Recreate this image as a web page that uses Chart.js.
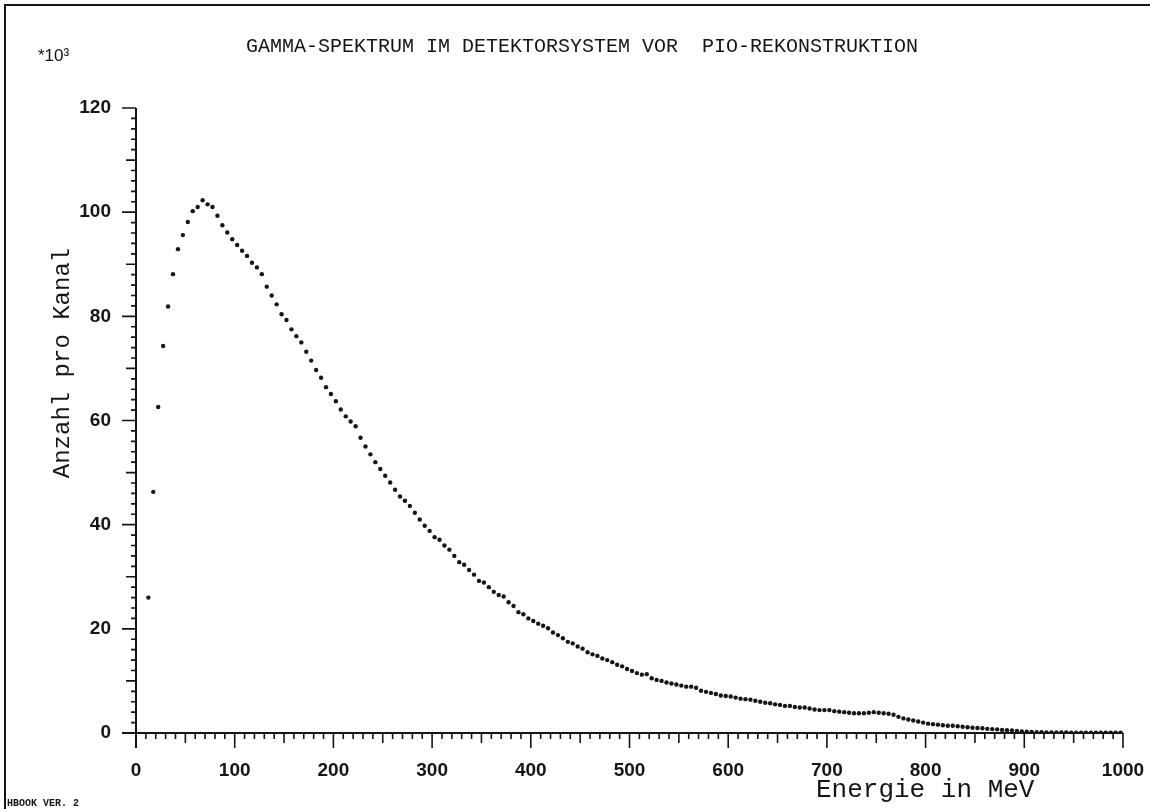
<!DOCTYPE html>
<html>
<head>
<meta charset="utf-8">
<script src="https://cdn.jsdelivr.net/npm/chart.js@4/dist/chart.umd.min.js"></script>
<style>
html,body{margin:0;padding:0;background:#ffffff;}
#wrap{position:relative;width:1150px;height:809px;}
</style>
</head>
<body>
<div id="wrap"><canvas id="c" width="1150" height="809"></canvas></div>
<script>
// ---- text ----
const titleText = "GAMMA-SPEKTRUM IM DETEKTORSYSTEM VOR  PIO-REKONSTRUKTION";
const scaleFactorText = "*10³";
const xAxisTitle = "Energie in MeV";
const yAxisTitle = "Anzahl pro Kanal";
const footerText = "HBOOK VER. 2";

// ---- tick labels ----
const xTickValues = [0, 100, 200, 300, 400, 500, 600, 700, 800, 900, 1000];
const yTickValues = [0, 20, 40, 60, 80, 100, 120];

// ---- channel centres (MeV) ----
const energies = [
  12.5, 17.5, 22.5, 27.5, 32.5, 37.5, 42.5, 47.5, 52.5, 57.5,
  62.5, 67.5, 72.5, 77.5, 82.5, 87.5, 92.5, 97.5, 102.5, 107.5,
  112.5, 117.5, 122.5, 127.5, 132.5, 137.5, 142.5, 147.5, 152.5, 157.5,
  162.5, 167.5, 172.5, 177.5, 182.5, 187.5, 192.5, 197.5, 202.5, 207.5,
  212.5, 217.5, 222.5, 227.5, 232.5, 237.5, 242.5, 247.5, 252.5, 257.5,
  262.5, 267.5, 272.5, 277.5, 282.5, 287.5, 292.5, 297.5, 302.5, 307.5,
  312.5, 317.5, 322.5, 327.5, 332.5, 337.5, 342.5, 347.5, 352.5, 357.5,
  362.5, 367.5, 372.5, 377.5, 382.5, 387.5, 392.5, 397.5, 402.5, 407.5,
  412.5, 417.5, 422.5, 427.5, 432.5, 437.5, 442.5, 447.5, 452.5, 457.5,
  462.5, 467.5, 472.5, 477.5, 482.5, 487.5, 492.5, 497.5, 502.5, 507.5,
  512.5, 517.5, 522.5, 527.5, 532.5, 537.5, 542.5, 547.5, 552.5, 557.5,
  562.5, 567.5, 572.5, 577.5, 582.5, 587.5, 592.5, 597.5, 602.5, 607.5,
  612.5, 617.5, 622.5, 627.5, 632.5, 637.5, 642.5, 647.5, 652.5, 657.5,
  662.5, 667.5, 672.5, 677.5, 682.5, 687.5, 692.5, 697.5, 702.5, 707.5,
  712.5, 717.5, 722.5, 727.5, 732.5, 737.5, 742.5, 747.5, 752.5, 757.5,
  762.5, 767.5, 772.5, 777.5, 782.5, 787.5, 792.5, 797.5, 802.5, 807.5,
  812.5, 817.5, 822.5, 827.5, 832.5, 837.5, 842.5, 847.5, 852.5, 857.5,
  862.5, 867.5, 872.5, 877.5, 882.5, 887.5, 892.5, 897.5, 902.5, 907.5,
  912.5, 917.5, 922.5, 927.5, 932.5, 937.5, 942.5, 947.5, 952.5, 957.5,
  962.5, 967.5, 972.5, 977.5, 982.5, 987.5, 992.5, 997.5
];

// ---- counts per channel (x 10^3) ----
const counts = [
  26.0, 46.3, 62.6, 74.3, 81.9, 88.1, 92.9, 95.6, 98.1, 100.2,
  101.0, 102.3, 101.5, 101.0, 99.3, 97.5, 96.1, 94.8, 93.7, 92.6,
  91.6, 90.3, 89.4, 88.1, 85.7, 84.0, 82.3, 80.4, 79.3, 77.5,
  76.2, 75.0, 73.2, 71.5, 69.7, 68.2, 66.4, 65.1, 63.7, 62.1,
  60.8, 59.8, 58.9, 56.7, 55.0, 53.5, 52.0, 50.7, 49.4, 48.1,
  46.7, 45.4, 44.6, 43.6, 42.3, 41.0, 39.8, 38.8, 37.6, 37.1,
  36.0, 35.2, 34.0, 32.8, 32.3, 31.3, 30.4, 29.2, 28.9, 28.0,
  27.1, 26.5, 26.2, 25.1, 24.4, 23.2, 22.8, 22.0, 21.5, 21.0,
  20.6, 20.1, 19.3, 18.8, 18.2, 17.5, 17.2, 16.6, 16.2, 15.5,
  15.1, 14.8, 14.3, 14.0, 13.6, 13.1, 12.8, 12.3, 11.9, 11.5,
  11.2, 11.3, 10.5, 10.2, 10.0, 9.7, 9.5, 9.3, 9.1, 8.9,
  8.9, 8.7, 8.1, 7.9, 7.7, 7.5, 7.2, 7.1, 7.0, 6.8,
  6.6, 6.5, 6.4, 6.2, 6.0, 5.8, 5.7, 5.5, 5.4, 5.2,
  5.2, 5.0, 4.9, 4.9, 4.7, 4.5, 4.4, 4.4, 4.4, 4.2,
  4.1, 4.0, 3.9, 3.8, 3.8, 3.8, 3.9, 4.0, 3.9, 3.8,
  3.7, 3.5, 3.1, 2.8, 2.6, 2.4, 2.2, 2.0, 1.8, 1.7,
  1.6, 1.5, 1.4, 1.4, 1.3, 1.2, 1.1, 1.0, 0.95, 0.9,
  0.8, 0.75, 0.7, 0.6, 0.55, 0.5, 0.4, 0.3, 0.25, 0.2,
  0.15, 0.15, 0.1, 0.1, 0.1, 0.1, 0.1, 0.05, 0.05, 0.05,
  0.05, 0.05, 0.05, 0.05, 0.05, 0.05, 0.05, 0.05
];

const INK = '#151515';

const decorPlugin = {
  id: 'decor',
  beforeDatasetsDraw(chart) {
    const ctx = chart.ctx;
    const xs = chart.scales.x, ys = chart.scales.y;
    const x0 = xs.getPixelForValue(0), x1 = xs.getPixelForValue(1000);
    const y0 = ys.getPixelForValue(0), y1 = ys.getPixelForValue(120);
    ctx.save();
    ctx.strokeStyle = INK;
    // page frame (top + left)
    ctx.lineWidth = 2;
    ctx.beginPath();
    ctx.moveTo(5, 809); ctx.lineTo(5, 5); ctx.lineTo(1150, 5);
    ctx.stroke();
    // axis lines
    ctx.lineWidth = 2;
    ctx.beginPath();
    ctx.moveTo(x0, y1); ctx.lineTo(x0, y0 + 15);
    ctx.moveTo(x0 - 14, y0); ctx.lineTo(x1, y0);
    ctx.stroke();
    // y ticks (left side)
    ctx.lineWidth = 1.6;
    ctx.beginPath();
    for (let v = 0; v <= 120; v += 2) {
      const len = v % 20 === 0 ? 14 : (v % 10 === 0 ? 10 : 5);
      const y = ys.getPixelForValue(v);
      ctx.moveTo(x0 - len, y); ctx.lineTo(x0, y);
    }
    // x ticks (downward)
    for (let v = 0; v <= 1000; v += 10) {
      const len = v % 100 === 0 ? 15 : (v % 50 === 0 ? 10 : 6);
      const x = xs.getPixelForValue(v);
      ctx.moveTo(x, y0); ctx.lineTo(x, y0 + len);
    }
    ctx.stroke();
    ctx.restore();
  },
  afterDraw(chart) {
    const ctx = chart.ctx;
    ctx.save();
    ctx.fillStyle = INK;
    // title
    ctx.font = '20px "Liberation Mono", "DejaVu Sans Mono", monospace';
    ctx.textAlign = 'center';
    ctx.textBaseline = 'middle';
    ctx.fillText(titleText, 582, 47);
    // scale factor
    ctx.font = '17px "Liberation Sans", Arial, sans-serif';
    ctx.textAlign = 'left';
    ctx.fillText(scaleFactorText, 38, 56);
    // x axis title
    ctx.font = '26px "Liberation Mono", "DejaVu Sans Mono", monospace';
    ctx.textAlign = 'left';
    ctx.fillText(xAxisTitle, 816, 790);
    // y axis title
    ctx.save();
    ctx.translate(63, 363);
    ctx.rotate(-Math.PI / 2);
    ctx.font = '24px "Liberation Mono", "DejaVu Sans Mono", monospace';
    ctx.textAlign = 'center';
    ctx.fillText(yAxisTitle, 0, 0);
    ctx.restore();
    // footer
    ctx.font = 'bold 10px "Liberation Mono", monospace';
    ctx.textAlign = 'left';
    ctx.fillText(footerText, 7, 803);
    ctx.restore();
  }
};

const tickFont = { family: '"Liberation Sans", Arial, sans-serif', size: 19, weight: 'bold' };

new Chart(document.getElementById('c'), {
  type: 'scatter',
  data: {
    datasets: [{
      data: energies.map((e, i) => ({ x: e, y: counts[i] })),
      pointRadius: 2.2,
      pointHoverRadius: 2.2,
      pointBackgroundColor: INK,
      pointBorderWidth: 0,
      showLine: false
    }]
  },
  options: {
    responsive: false,
    devicePixelRatio: 1,
    animation: false,
    layout: { padding: { top: 108, right: 27, bottom: 0, left: 0 } },
    plugins: { legend: { display: false }, tooltip: { enabled: false } },
    scales: {
      x: {
        type: 'linear', min: 0, max: 1000,
        afterBuildTicks: s => { s.ticks = xTickValues.map(v => ({ value: v })); },
        afterFit: s => { s.height = 76; s.paddingLeft = 0; s.paddingRight = 0; },
        grid: { display: false, drawTicks: false },
        border: { display: false },
        ticks: { padding: 26, font: tickFont, color: INK, maxRotation: 0, autoSkip: false,
                 callback: v => String(v) }
      },
      y: {
        type: 'linear', min: 0, max: 120,
        afterBuildTicks: s => { s.ticks = yTickValues.map(v => ({ value: v })); },
        afterFit: s => { s.width = 136; s.paddingTop = 0; s.paddingBottom = 0; },
        grid: { display: false, drawTicks: false },
        border: { display: false },
        ticks: { padding: 25, font: tickFont, color: INK, autoSkip: false,
                 callback: v => String(v) }
      }
    }
  },
  plugins: [decorPlugin]
});
</script>
</body>
</html>
